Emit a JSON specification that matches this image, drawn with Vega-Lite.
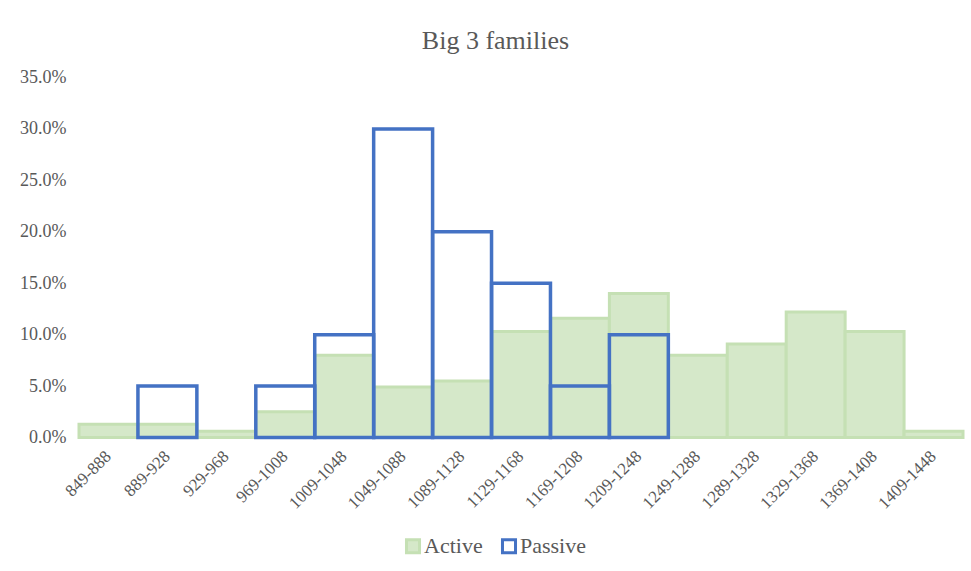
{
  "$schema": "https://vega.github.io/schema/vega-lite/v6.json",
  "autosize": {"type": "none"},
  "width": 884,
  "height": 360,
  "padding": {"left": 79, "top": 77.5, "right": 8, "bottom": 133.5},
  "background": "#ffffff",
  "config": {"view": {"stroke": null}},
  "title": {
    "text": "Big 3 families",
    "font": "Liberation Serif",
    "fontSize": 26,
    "fontWeight": "normal",
    "color": "#595959",
    "anchor": "middle",
    "frame": "group",
    "baseline": "alphabetic",
    "dx": -25.5,
    "dy": 37,
    "offset": 31
  },
  "data": {
    "values": [
      {"bin": "849-888", "series": "Active", "value": 0.013},
      {"bin": "889-928", "series": "Active", "value": 0.013},
      {"bin": "929-968", "series": "Active", "value": 0.006},
      {"bin": "969-1008", "series": "Active", "value": 0.025},
      {"bin": "1009-1048", "series": "Active", "value": 0.08},
      {"bin": "1049-1088", "series": "Active", "value": 0.049},
      {"bin": "1089-1128", "series": "Active", "value": 0.055},
      {"bin": "1129-1168", "series": "Active", "value": 0.103},
      {"bin": "1169-1208", "series": "Active", "value": 0.116},
      {"bin": "1209-1248", "series": "Active", "value": 0.14},
      {"bin": "1249-1288", "series": "Active", "value": 0.08},
      {"bin": "1289-1328", "series": "Active", "value": 0.091},
      {"bin": "1329-1368", "series": "Active", "value": 0.122},
      {"bin": "1369-1408", "series": "Active", "value": 0.103},
      {"bin": "1409-1448", "series": "Active", "value": 0.006},
      {"bin": "849-888", "series": "Passive", "value": 0},
      {"bin": "889-928", "series": "Passive", "value": 0.05},
      {"bin": "929-968", "series": "Passive", "value": 0},
      {"bin": "969-1008", "series": "Passive", "value": 0.05},
      {"bin": "1009-1048", "series": "Passive", "value": 0.1},
      {"bin": "1049-1088", "series": "Passive", "value": 0.3},
      {"bin": "1089-1128", "series": "Passive", "value": 0.2},
      {"bin": "1129-1168", "series": "Passive", "value": 0.15},
      {"bin": "1169-1208", "series": "Passive", "value": 0.05},
      {"bin": "1209-1248", "series": "Passive", "value": 0.1},
      {"bin": "1249-1288", "series": "Passive", "value": 0},
      {"bin": "1289-1328", "series": "Passive", "value": 0},
      {"bin": "1329-1368", "series": "Passive", "value": 0},
      {"bin": "1369-1408", "series": "Passive", "value": 0},
      {"bin": "1409-1448", "series": "Passive", "value": 0}
    ]
  },
  "encoding": {
    "x": {
      "field": "bin",
      "type": "ordinal",
      "sort": null,
      "scale": {"paddingInner": 0, "paddingOuter": 0},
      "axis": {
        "title": null,
        "labelAngle": -45,
        "labelAlign": "right",
        "labelBaseline": "middle",
        "labelPadding": 16,
        "labelFont": "Liberation Serif",
        "labelFontSize": 17,
        "labelColor": "#595959",
        "ticks": false,
        "domain": true,
        "domainColor": "#d9d9d9",
        "domainWidth": 1.5
      }
    },
    "y": {
      "field": "value",
      "type": "quantitative",
      "scale": {"domain": [0, 0.35], "nice": false},
      "axis": {
        "title": null,
        "values": [0, 0.05, 0.1, 0.15, 0.2, 0.25, 0.3, 0.35],
        "format": ".1%",
        "grid": false,
        "domain": false,
        "ticks": false,
        "labelPadding": 13,
        "labelFont": "Liberation Serif",
        "labelFontSize": 18,
        "labelColor": "#595959"
      }
    },
    "fill": {
      "field": "series",
      "type": "nominal",
      "scale": {"domain": ["Active", "Passive"], "range": ["#d5e8c9", "transparent"]},
      "legend": {
        "title": null,
        "orient": "none",
        "direction": "horizontal",
        "legendX": 323,
        "legendY": 457.5,
        "padding": 0,
        "symbolType": "square",
        "symbolSize": 170,
        "symbolStrokeWidth": 3,
        "labelFont": "Liberation Serif",
        "labelFontSize": 22,
        "labelColor": "#595959",
        "labelOffset": 0,
        "columnPadding": 13
      }
    },
    "stroke": {
      "field": "series",
      "type": "nominal",
      "scale": {"domain": ["Active", "Passive"], "range": ["#c5e0b4", "#4472c4"]},
      "legend": {
        "title": null,
        "orient": "none",
        "direction": "horizontal",
        "legendX": 323,
        "legendY": 457.5,
        "padding": 0,
        "symbolType": "square",
        "symbolSize": 170,
        "symbolStrokeWidth": 3,
        "labelFont": "Liberation Serif",
        "labelFontSize": 22,
        "labelColor": "#595959",
        "labelOffset": 0,
        "columnPadding": 13
      }
    }
  },
  "layer": [
    {
      "transform": [{"filter": "datum.series === 'Active'"}],
      "mark": {"type": "bar", "strokeWidth": 3, "opacity": 1}
    },
    {
      "transform": [{"filter": "datum.series === 'Passive' && datum.value > 0"}],
      "mark": {"type": "bar", "strokeWidth": 3.5, "opacity": 1}
    }
  ]
}
